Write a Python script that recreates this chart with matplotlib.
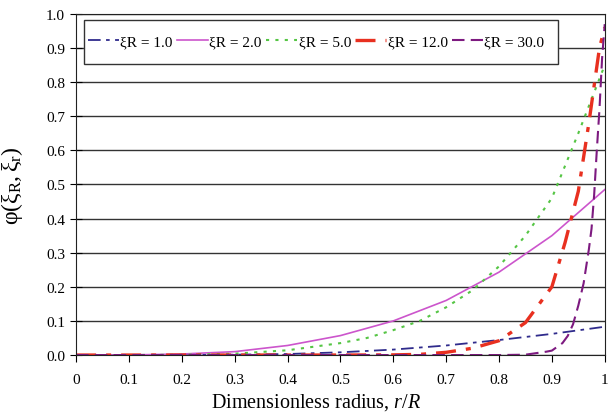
import matplotlib
matplotlib.use("Agg")
import matplotlib.pyplot as plt
from matplotlib.patches import Rectangle

plt.rcParams['font.family'] = ['Liberation Serif', 'DejaVu Serif']
plt.rcParams['mathtext.fontset'] = 'custom'
plt.rcParams['mathtext.rm'] = 'Liberation Serif'
plt.rcParams['mathtext.it'] = 'Liberation Serif:italic'

# values
x_a = [0, 0.1, 0.2, 0.3, 0.4, 0.5, 0.6, 0.7, 0.8, 0.9, 1.0]
xi1 = [0, 0, 0.0003, 0.001, 0.003, 0.008, 0.016, 0.028, 0.044, 0.062, 0.083]
xi2 = [0, 0.0003, 0.003, 0.01, 0.028, 0.057, 0.1, 0.16, 0.243, 0.35, 0.485]

x_b = [0, 0.1, 0.2, 0.3, 0.4, 0.5, 0.55, 0.6, 0.65, 0.7, 0.75, 0.8, 0.85, 0.9, 0.95, 1.0]
xi5 = [0, 0, 0.001, 0.004, 0.014, 0.035, 0.05, 0.073, 0.1, 0.14, 0.19, 0.26, 0.35, 0.46, 0.65, 0.85]

x_c = [0, 0.5, 0.6, 0.65, 0.7, 0.75, 0.8, 0.85, 0.9, 0.925, 0.95, 0.96, 0.97, 0.98, 0.99, 1.0]
xi12 = [0, 0, 0.0005, 0.002, 0.008, 0.02, 0.042, 0.095, 0.2, 0.33, 0.48, 0.58, 0.68, 0.79, 0.9, 0.96]

x_d = [0, 0.8, 0.85, 0.89, 0.9, 0.92, 0.93, 0.94, 0.95, 0.96, 0.97, 0.975, 0.98, 0.985, 0.99, 0.995, 1.0]
xi30 = [0, 0, 0.001, 0.01, 0.013, 0.035, 0.056, 0.09, 0.145, 0.21, 0.31, 0.37, 0.47, 0.6, 0.72, 0.87, 0.97]

fig = plt.figure(figsize=(6.09, 4.14), dpi=100)
ax = fig.add_axes([0.125, 0.140, 0.868, 0.824])

ax.plot(x_a, xi1, color='#2f2b8c', lw=1.3, ls=(0, (7, 3, 2, 3)), label='ξR = 1.0')
ax.plot(x_a, xi2, color='#cc55cc', lw=1.2, ls='-', label='ξR = 2.0')
ax.plot(x_b, xi5, color='#55c544', lw=1.5, ls=(0, (1.5, 3)), label='ξR = 5.0')
ax.plot(x_c, xi12, color='#e83020', lw=2.4, ls=(0, (6, 3, 1.5, 3)), label='ξR = 12.0')
ax.plot(x_d, xi30, color='#7d1a80', lw=1.5, ls=(0, (6, 3)), label='ξR = 30.0')

ax.set_xlim(0, 1)
ax.set_ylim(0, 1)
ax.set_xticks([0, 0.1, 0.2, 0.3, 0.4, 0.5, 0.6, 0.7, 0.8, 0.9, 1.0])
ax.set_xticklabels(['0', '0.1', '0.2', '0.3', '0.4', '0.5', '0.6', '0.7', '0.8', '0.9', '1'])
ax.set_yticks([i / 10 for i in range(11)])
ax.set_yticklabels([f'{i / 10:.1f}' for i in range(11)])
ax.tick_params(axis='x', direction='out', length=5, labelsize=11, pad=8)
ax.tick_params(axis='y', direction='inout', length=8, labelsize=11, pad=4)
ax.yaxis.grid(True, color='#333333', lw=1.0)
ax.set_axisbelow(True)
for s in ax.spines.values():
    s.set_color('#222222')

ax.set_xlabel(r'Dimensionless radius, $\mathit{r/R}$', fontsize=14.5)
ax.xaxis.set_label_coords(0.454, -0.106)
ax.set_ylabel(r'$\mathrm{φ(ξ_R,ξ_r)}$', fontsize=17)
ax.yaxis.set_label_coords(-0.097, 0.5)

# legend box is taller than matplotlib's frame would be, so draw it by hand
box = Rectangle((0.015, 0.853), 0.896, 0.129, transform=ax.transAxes,
                facecolor='white', edgecolor='#333333', lw=1.0, zorder=4)
ax.add_patch(box)
leg = ax.legend(loc='center left', bbox_to_anchor=(0.0, 0.918), ncol=5, fontsize=11,
                handlelength=2.0, handletextpad=0.1, columnspacing=0.3,
                borderpad=0.3, frameon=False)
leg.set_zorder(5)

fig.savefig('out.png', dpi=100)
